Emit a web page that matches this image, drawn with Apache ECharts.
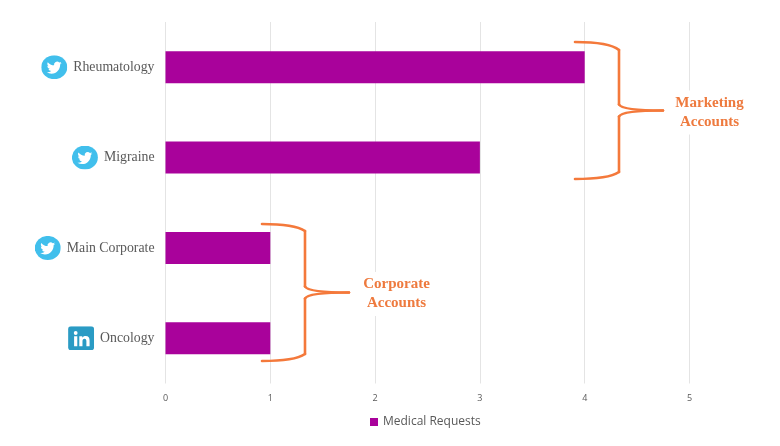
<!DOCTYPE html>
<html>
<head>
<meta charset="utf-8">
<style>
html,body{margin:0;padding:0;background:#fff}
#chart{width:780px;height:446px}
</style>
<script src="https://cdn.jsdelivr.net/npm/echarts@6/dist/echarts.min.js"></script>
</head>
<body>
<div id="chart"></div>
<script>
var categories = ['Rheumatology', 'Migraine', 'Main Corporate', 'Oncology']
var platforms = ['tw', 'tw', 'tw', 'in']
var requests = [4, 3, 1, 1]
var seriesName = 'Medical Requests'

var birdPath = 'M23.95 4.57a10 10 0 0 1-2.82.77 4.96 4.96 0 0 0 2.16-2.72c-.95.55-2 .96-3.13 1.19a4.92 4.92 0 0 0-8.38 4.48C7.69 8.1 4.07 6.13 1.64 3.16a4.82 4.82 0 0 0-.67 2.48c0 1.71.87 3.21 2.19 4.1a4.9 4.9 0 0 1-2.23-.62v.06a4.92 4.92 0 0 0 3.95 4.83 5 5 0 0 1-2.21.08 4.94 4.94 0 0 0 4.6 3.42A9.87 9.87 0 0 1 0 19.54a14 14 0 0 0 7.56 2.21c9.05 0 14-7.5 14-13.98 0-.21 0-.42-.02-.63a9.94 9.94 0 0 0 2.46-2.55z'

function svgUri(body) {
    return 'data:image/svg+xml;charset=utf-8,' + encodeURIComponent(
        '<svg xmlns="http://www.w3.org/2000/svg" width="52" height="48" viewBox="0 0 26 24">' + body + '</svg>')
}
var twitterIcon = svgUri('<ellipse cx="13" cy="12" rx="13" ry="12" fill="#41bfec"/>' +
    '<path transform="translate(5.5 5) scale(.62)" fill="#fff" d="' + birdPath + '"/>')
var linkedinIcon = svgUri('<rect x="0" y="0" width="26" height="24" rx="3" fill="#2a9bc4"/>' +
    '<path fill="#fff" d="M6 10h3.2v10H6zM7.6 4.8a1.9 1.9 0 1 1 0 3.8 1.9 1.9 0 0 1 0-3.8zM11.2 10h3v1.4c.6-1 1.8-1.7 3.3-1.7 3 0 4 1.900 4 4.700V20h-3.200v-5c0-1.500-.4-2.600-1.800-2.600-1.500 0-2.100 1.100-2.100 2.600v5h-3.200z"/>')

var braceStyle = {fill: 'none', stroke: '#f4793b', lineWidth: 2.6, lineCap: 'round'}
function curve(x1, y1, cx1, cy1, cx2, cy2, x2, y2) {
    return {type: 'bezierCurve', z: 10, style: braceStyle,
        shape: {x1: x1, y1: y1, cpx1: cx1, cpy1: cy1, cpx2: cx2, cpy2: cy2, x2: x2, y2: y2}}
}
function stem(x, y1, y2) {
    return {type: 'line', z: 10, style: braceStyle, shape: {x1: x, y1: y1, x2: x, y2: y2}}
}
// x0 = open end, xs = spine, tip = point of the brace
function brace(x0, xs, tip, y0, ys, mid, ye, y1) {
    return [
        curve(x0, y0, x0 + 22, y0, xs - 6, y0 + 3, xs, ys),
        stem(xs, ys, mid - 6),
        curve(xs, mid - 6, xs + 2, mid - 2, xs + 14, mid, tip, mid),
        curve(tip, mid, xs + 14, mid, xs + 2, mid + 2, xs, mid + 6),
        stem(xs, mid + 6, ye),
        curve(xs, ye, xs - 6, y1 - 3, x0 + 22, y1, x0, y1)
    ]
}
function noteEl(x, y, txt) {
    return {type: 'text', z: 10, x: x, y: y, style: {
        text: txt, fill: '#ee7a3e', align: 'center', verticalAlign: 'middle',
        font: 'bold 15px "Liberation Serif"', lineHeight: 19,
        backgroundColor: '#fff', padding: [3, 0, 3, 0]
    }}
}

var chart = echarts.init(document.getElementById('chart'), null, {renderer: 'canvas'})
chart.setOption({
    animation: false,
    backgroundColor: '#fff',
    legend: {
        left: 365, top: 411,
        icon: 'rect', itemWidth: 8, itemHeight: 8, itemGap: 5,
        data: [seriesName],
        textStyle: {fontFamily: 'Open Sans', fontSize: 12, color: '#595959'}
    },
    grid: {left: 165.5, width: 524, top: 22, height: 361.5},
    xAxis: {
        type: 'value', min: 0, max: 5, interval: 1,
        axisLine: {show: false},
        axisTick: {show: false},
        axisLabel: {fontFamily: 'Open Sans', fontSize: 9, color: '#595959', margin: 10},
        splitLine: {lineStyle: {color: '#e4e4e4', width: 1}}
    },
    yAxis: {
        type: 'category', inverse: true, data: categories,
        axisLine: {show: false},
        axisTick: {show: false},
        axisLabel: {
            margin: 11,
            formatter: function (v, i) {
                return '{' + platforms[i] + '|}{gap|}{name|' + v + '}'
            },
            rich: {
                tw: {width: 26, height: 24, backgroundColor: {image: twitterIcon}},
                in: {width: 26, height: 24, backgroundColor: {image: linkedinIcon}},
                gap: {width: 6},
                name: {fontFamily: 'Liberation Serif', fontSize: 13.8, color: '#595959'}
            }
        }
    },
    series: [{
        name: seriesName, type: 'bar', data: requests, barWidth: 32,
        itemStyle: {color: '#a9029b'}
    }],
    graphic: brace(575, 619, 663, 42, 50, 110.5, 172, 179)
        .concat(brace(262, 305, 349, 224, 231, 292.5, 354, 361))
        .concat([
            noteEl(709.5, 112.5, 'Marketing\nAccounts'),
            noteEl(396.5, 294, 'Corporate\nAccounts')
        ])
})
</script>
</body>
</html>
